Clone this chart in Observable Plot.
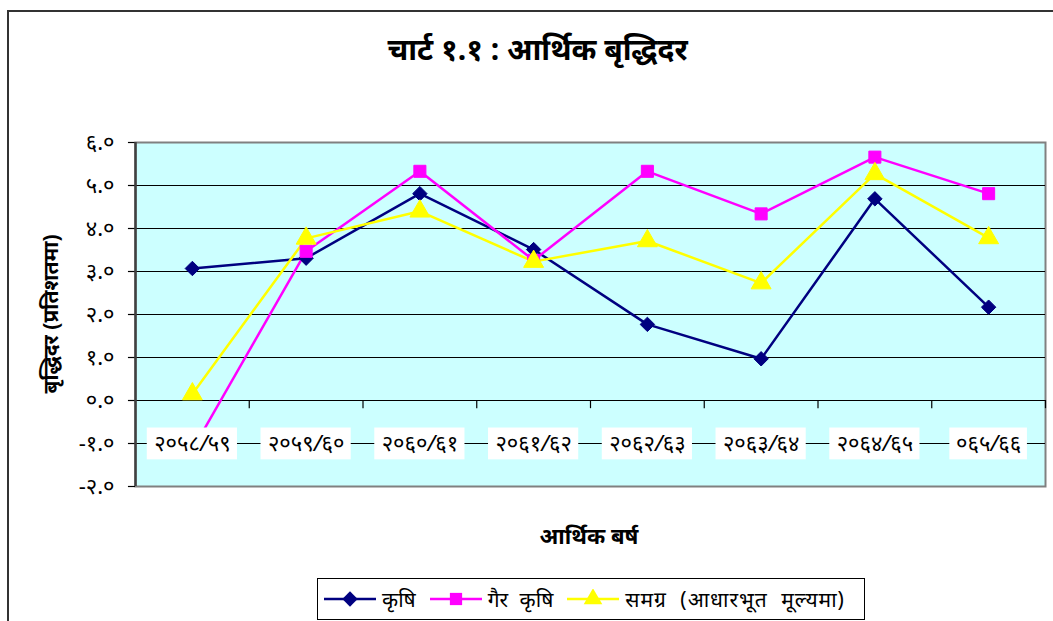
<!DOCTYPE html>
<html>
<head>
<meta charset="utf-8">
<script src="https://cdn.jsdelivr.net/npm/d3@7"></script>
<script src="https://cdn.jsdelivr.net/npm/@observablehq/plot@0.6"></script>
<style>
  html, body { margin: 0; padding: 0; background: #fff; overflow: hidden; }
  #wrap { position: relative; width: 1053px; height: 621px; font-family: "Noto Sans", "DejaVu Sans", sans-serif; }
  #border { position: absolute; left: 7px; top: 10px; width: 1200px; height: 800px; border-left: 2px solid #333; border-top: 2px solid #333; }
  #chart { position: absolute; left: 0; top: 0; }
  .title { position: absolute; left: 0; width: 1075px; top: 28px; text-align: center; font-size: 30px; font-weight: bold; color: #000; }
  .xtitle { position: absolute; left: 0; width: 1178px; top: 520px; text-align: center; font-size: 22px; font-weight: bold; color: #000; }
  .ytitle { position: absolute; left: 50px; top: 314px; transform: translate(-50%, -50%) rotate(-90deg); white-space: nowrap; font-size: 21px; font-weight: bold; color: #000; }
  .legend { position: absolute; left: 317px; top: 578px; width: 548px; height: 42px; border: 1.5px solid #000; box-sizing: border-box; display: flex; align-items: center; padding-left: 6px; font-size: 21px; word-spacing: 6px; color: #000; background: #fff; white-space: nowrap; overflow: hidden; }
  .legend .item { display: flex; align-items: center; margin-right: 14px; flex: none; white-space: nowrap; }
  .legend .item:last-child { margin-right: 0; }
  .legend .item:last-child span { letter-spacing: 1px; word-spacing: 7px; }
  .legend svg { margin-right: 6px; flex: none; }
</style>
</head>
<body>
<div id="wrap">
  <div id="border"></div>
  <div id="chart"></div>
  <div class="title">चार्ट १.१ : आर्थिक बृद्धिदर</div>
  <div class="ytitle">बृद्धिदर (प्रतिशतमा)</div>
  <div class="xtitle">आर्थिक बर्ष</div>
  <div class="legend" id="legend"></div>
</div>
<script>
// ---- data ----
const years = ["२०५८/५९", "२०५९/६०", "२०६०/६१", "२०६१/६२", "२०६२/६३", "२०६३/६४", "२०६४/६५", "०६५/६६"];
const krishi = [3.07, 3.31, 4.81, 3.51, 1.77, 0.97, 4.69, 2.17];
const gairKrishi = [-1.15, 3.47, 5.33, 3.26, 5.33, 4.34, 5.66, 4.81];
const samagra = [0.15, 3.77, 4.40, 3.23, 3.71, 2.73, 5.27, 3.78];
const seriesNames = ["कृषि", "गैर कृषि", "समग्र (आधारभूत मूल्यमा)"];
const yTicks = [-2, -1, 0, 1, 2, 3, 4, 5, 6];

// ---- helpers ----
const devDigits = "०१२३४५६७८९";
const toDev = s => String(s).replace(/[0-9]/g, d => devDigits[+d]);
const colors = ["#000080", "#FF00FF", "#FFFF00"];
const symbols = ["diamond2", "square", "triangle"];

const allSeries = [krishi, gairKrishi, samagra];
const rows = allSeries.flatMap((vals, s) => vals.map((v, i) => ({series: seriesNames[s], s, i: i + 0.5, v})));
const labelRows = years.map((y, i) => ({label: y, i: i + 0.5, hw: (y.length * 12.6 + 2) / 2 / 113.75}));

const chart = Plot.plot({
  width: 1053,
  height: 621,
  marginLeft: 135,
  marginRight: 8,
  marginTop: 142,
  marginBottom: 135,
  style: {fontSize: "17px", color: "#000", background: "transparent", fontFamily: "'Noto Sans', 'DejaVu Sans', sans-serif"},
  x: {domain: [0, years.length], axis: null},
  y: {domain: [-2, 6], axis: null},
  color: {domain: seriesNames, range: colors},
  symbol: {domain: seriesNames, range: symbols},
  marks: [
    Plot.frame({fill: "#CCFFFF", stroke: "#808080", strokeWidth: 2}),
    Plot.gridY(yTicks.filter(t => t > -2 && t < 6), {stroke: "#000", strokeOpacity: 1, strokeWidth: 1}),
    Plot.ruleY([0], {stroke: "#000", strokeWidth: 1.2}),
    Plot.ruleX(d3.range(1, years.length + 1), {y1: 0, y2: -0.19, stroke: "#000", strokeWidth: 1.2}),
    // y-axis ticks and labels
    Plot.ruleY(yTicks, {x1: -0.062, x2: 0, stroke: "#000", strokeWidth: 1.2}),
    Plot.text(yTicks, {x: 0, y: d => d, dx: -21, textAnchor: "end", text: d => toDev(d.toFixed(1)), fontSize: 22, fill: "#000"}),
    Plot.ruleX([0], {stroke: "#404040", strokeWidth: 2.5}),
    Plot.line(rows, {x: "i", y: "v", z: "series", stroke: "series", strokeWidth: 2.5}),
    Plot.dot(rows.filter(d => d.s === 0), {x: "i", y: "v", symbol: "series", fill: "series", stroke: "series", r: 6.5, strokeWidth: 1}),
    Plot.dot(rows.filter(d => d.s === 1), {x: "i", y: "v", symbol: "series", fill: "series", stroke: "series", r: 6.8, strokeWidth: 1}),
    Plot.dot(rows.filter(d => d.s === 2), {x: "i", y: "v", symbol: "series", fill: "series", stroke: "series", r: 7.4, strokeWidth: 1}),
    Plot.rect(labelRows, {x1: d => d.i - d.hw, x2: d => d.i + d.hw, y1: -1.38, y2: -0.64, fill: "#fff"}),
    Plot.text(labelRows, {x: "i", y: -1, text: "label", fontSize: 22, fontStyle: "italic", fill: "#000"})
  ]
});
document.getElementById("chart").appendChild(chart);

// ---- legend ----
const legend = document.getElementById("legend");
seriesNames.forEach((name, s) => {
  const item = document.createElement("div");
  item.className = "item";
  const sym = d3.symbol(d3[{"diamond2": "symbolDiamond2", "square": "symbolSquare", "triangle": "symbolTriangle"}[symbols[s]]], 150)();
  item.innerHTML = `<svg width="52" height="20"><line x1="0" x2="52" y1="10" y2="10" stroke="${colors[s]}" stroke-width="2.5"/><path d="${sym}" transform="translate(26,10)" fill="${colors[s]}"/></svg><span>${name}</span>`;
  legend.appendChild(item);
});
</script>
</body>
</html>
